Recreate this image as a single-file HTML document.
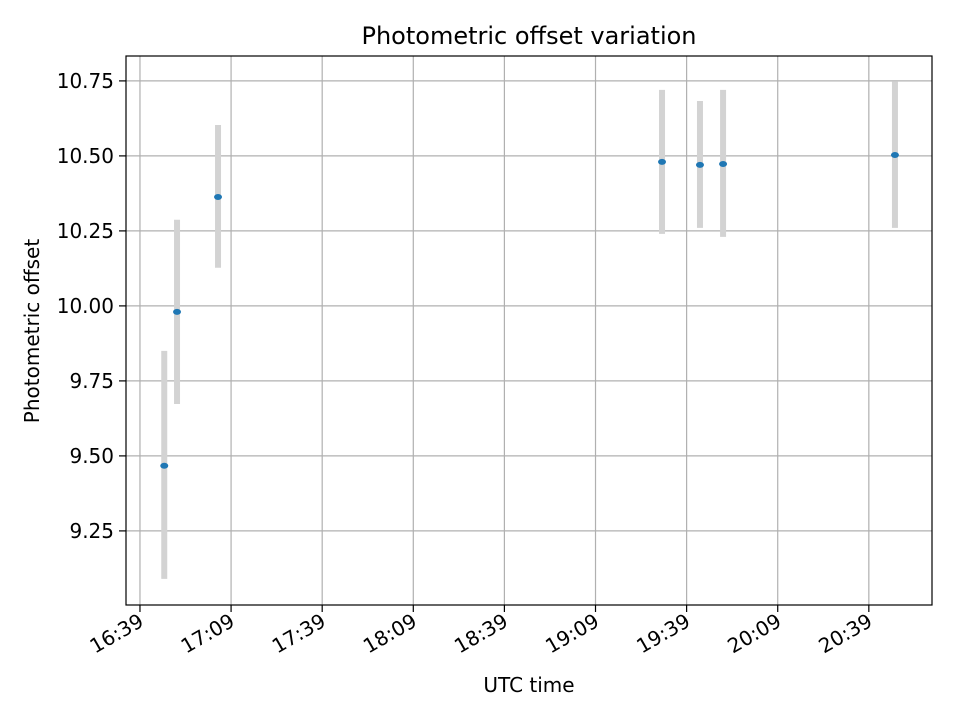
<!DOCTYPE html>
<html><head><meta charset="utf-8"><style>
body{margin:0;background:#fff;font-family:"DejaVu Sans","Liberation Sans",sans-serif}
</style></head><body>
<svg id="chart" width="960" height="720" xmlns="http://www.w3.org/2000/svg" font-family="DejaVu Sans, Liberation Sans, sans-serif">
<g id="grid"></g>
<g id="errs"></g>
<g id="pts"></g>
<rect x="126" y="56" width="806" height="549" fill="none" stroke="#000" stroke-width="1.2"/>
<g id="ticks"></g>
<text x="529" y="44" text-anchor="middle" font-size="24">Photometric offset variation</text>
<text x="529" y="692" text-anchor="middle" font-size="20">UTC time</text>
<text transform="translate(39,331) rotate(-90)" text-anchor="middle" font-size="20">Photometric offset</text>
</svg>
<script>
// minutes after 16:39 UTC
const times = [8, 12.2, 25.7, 171.9, 184.4, 192, 248.6];
const offsets = [9.467, 9.98, 10.363, 10.48, 10.47, 10.473, 10.503];
const errLow = [9.09, 9.673, 10.127, 10.24, 10.26, 10.23, 10.26];
const errHigh = [9.85, 10.287, 10.603, 10.72, 10.683, 10.72, 10.747];
const yTicks = [9.25, 9.5, 9.75, 10.0, 10.25, 10.5, 10.75];
const yTickLabels = ["9.25","9.50","9.75","10.00","10.25","10.50","10.75"];
const xTicks = [0, 30, 60, 90, 120, 150, 180, 210, 240];
const xTickLabels = ["16:39","17:09","17:39","18:09","18:39","19:09","19:39","20:09","20:39"];

const L=126,R=932,T=56,B=605;
const xMin=-4.6,xMax=260.8,yMin=9.003,yMax=10.833;
const X=m=>L+(m-xMin)/(xMax-xMin)*(R-L);
const Y=v=>B-(v-yMin)/(yMax-yMin)*(B-T);
const NS="http://www.w3.org/2000/svg";
function mk(tag,attrs,parent){const e=document.createElementNS(NS,tag);for(const k in attrs)e.setAttribute(k,attrs[k]);document.getElementById(parent).appendChild(e);return e;}

yTicks.forEach((v,i)=>{
  const y=Y(v);
  const g=mk('line',{x1:L,x2:R,y1:y,y2:y,stroke:'#b0b0b0','stroke-width':1.2},'grid');
  
  
  const t=mk('line',{x1:L-7,x2:L,y1:y,y2:y,stroke:'#000','stroke-width':1.2},'ticks');
  
  
  const l=mk('text',{x:L-12,y:y+7,'text-anchor':'end','font-size':20},'ticks');
  l.textContent=yTickLabels[i];
  
  
});
xTicks.forEach((m,i)=>{
  const x=X(m);
  const g=mk('line',{x1:x,x2:x,y1:T,y2:B,stroke:'#b0b0b0','stroke-width':1.2},'grid');
  
  
  const t=mk('line',{x1:x,x2:x,y1:B,y2:B+7,stroke:'#000','stroke-width':1.2},'ticks');
  
  
  const l=mk('text',{transform:`translate(${x+5},${B+20}) rotate(-30)`,'text-anchor':'end','font-size':20},'ticks');
  l.textContent=xTickLabels[i];
  
  
});
times.forEach((m,i)=>{
  const x=X(m);
  const e=mk('line',{x1:x,x2:x,y1:Y(errHigh[i]),y2:Y(errLow[i]),stroke:'#d3d3d3','stroke-width':6},'errs');
  
  
  const p=mk('ellipse',{cx:x,cy:Y(offsets[i]),rx:4,ry:3,fill:'#1f77b4'},'pts');
  
  
});
</script>
</body></html>
